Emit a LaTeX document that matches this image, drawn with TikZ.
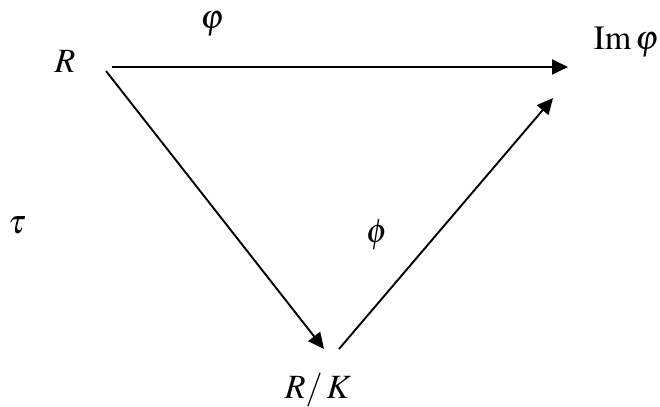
\documentclass[tikz,border=0pt]{standalone}
\usepackage{mathptmx}
\usepackage{tikz}
\usetikzlibrary{arrows.meta}

\tikzset{
  lbl/.style={inner sep=0pt, font=\fontsize{17}{20}\selectfont},
  maparrow/.style={line width=0.95pt, -{Triangle[length=8pt,width=7.5pt]}}
}

\begin{document}
\begin{tikzpicture}[x=0.5pt, y=-0.5pt]
		\useasboundingbox (0,0) rectangle (660,407);

		% objects
		\node[lbl] (R) at (65,61) {$R$};
		\node[lbl] (Im) at (626,42) {$\mathrm{Im}\,\varphi$};
		\node[lbl] (RK) at (318,390) {$R/\,K$};

		% map names
		\node[lbl] (phi) at (212,24) {$\varphi$};
		\node[lbl] (tau) at (17,225) {$\tau$};
		\node[lbl] (psi) at (377,235) {$\phi$};

		% arrow ends
		\coordinate (Rh) at (112,67);
		\coordinate (Rd) at (106,71);
		\coordinate (Imh) at (568,67);
		\coordinate (Imd) at (553,98);
		\coordinate (RKin) at (324,349);
		\coordinate (RKout) at (339,349);

		\draw[maparrow] (Rh) -- (Imh);
		\draw[maparrow] (Rd) -- (RKin);
		\draw[maparrow] (RKout) -- (Imd);
	\end{tikzpicture}
\end{document}
